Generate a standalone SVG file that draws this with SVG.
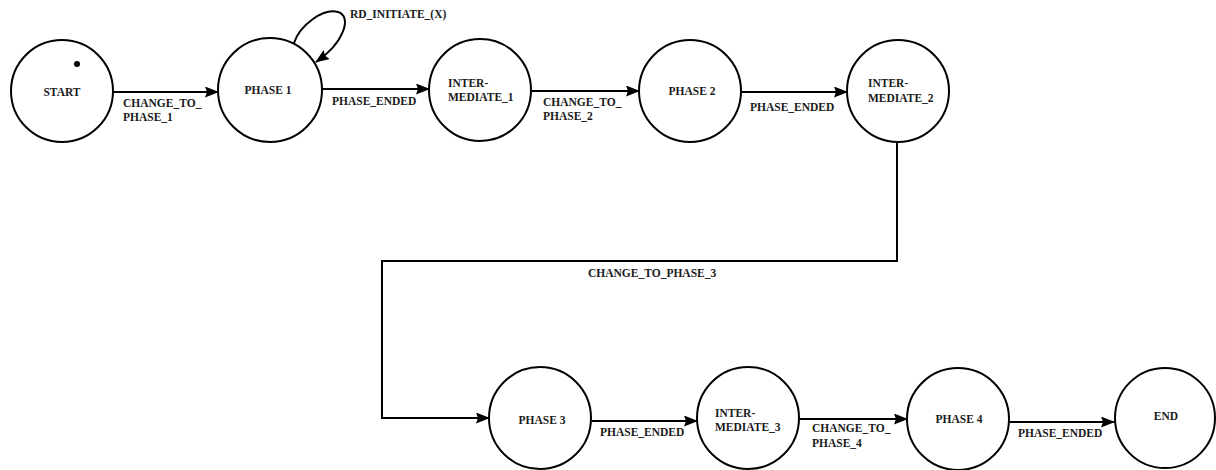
<svg xmlns="http://www.w3.org/2000/svg" width="1216" height="470" viewBox="0 0 1216 470">
<style>
.n{fill:#fff;stroke:#000;stroke-width:2}
.t{font-family:"Liberation Serif","Times New Roman",serif;font-weight:bold;font-size:11.5px;fill:#1a1a1a}
.c{text-anchor:middle}
.e{fill:none;stroke:#000;stroke-width:2}
</style>
<defs>
<marker id="a" markerWidth="14" markerHeight="11" refX="13" refY="5.5" orient="auto" markerUnits="userSpaceOnUse">
<path d="M0,0 L14,5.5 L0,11 L2,5.5 Z" fill="#000"/>
</marker>
</defs>
<rect width="1216" height="470" fill="#fff"/>
<g id="connectors">
<path class="e" d="M113,92 L218,92" marker-end="url(#a)"/>
<path class="e" d="M294,43 C300,25 323,8 338,12 C352,16 345,42 316,62" marker-end="url(#a)"/>
<path class="e" d="M322,89 L429,89" marker-end="url(#a)"/>
<path class="e" d="M532,91 L639,91" marker-end="url(#a)"/>
<path class="e" d="M742,92 L847,92" marker-end="url(#a)"/>
<path class="e" d="M897,143 L897,261 L382,261 L382,418 L489,418" marker-end="url(#a)"/>
<path class="e" d="M592,421 L697,421" marker-end="url(#a)"/>
<path class="e" d="M800,419 L907,419" marker-end="url(#a)"/>
<path class="e" d="M1010,422 L1114,422" marker-end="url(#a)"/>
<text class="t" x="123" y="107">CHANGE_TO_</text>
<text class="t" x="123" y="121">PHASE_1</text>
<text class="t" x="350" y="18">RD_INITIATE_(X)</text>
<text class="t" x="332" y="105">PHASE_ENDED</text>
<text class="t" x="543" y="106">CHANGE_TO_</text>
<text class="t" x="543" y="120">PHASE_2</text>
<text class="t" x="750" y="111">PHASE_ENDED</text>
<text class="t" x="588" y="277">CHANGE_TO_PHASE_3</text>
<text class="t" x="600" y="436">PHASE_ENDED</text>
<text class="t" x="812" y="432">CHANGE_TO_</text>
<text class="t" x="812" y="447">PHASE_4</text>
<text class="t" x="1018" y="437">PHASE_ENDED</text>
</g>
<g id="start">
<circle class="n" cx="62" cy="91" r="51"/>
<circle cx="77" cy="64" r="3" fill="#000"/>
<text class="t c" x="62" y="96">START</text>
</g>
<g id="phase1">
<circle class="n" cx="270" cy="90" r="52"/>
<text class="t c" x="268" y="94">PHASE 1</text>
</g>
<g id="intermediate1">
<circle class="n" cx="480" cy="90" r="51"/>
<text class="t" x="448" y="87">INTER-</text>
<text class="t" x="448" y="101">MEDIATE_1</text>
</g>
<g id="phase2">
<circle class="n" cx="690" cy="91" r="51"/>
<text class="t c" x="692" y="95">PHASE 2</text>
</g>
<g id="intermediate2">
<circle class="n" cx="898" cy="91" r="51"/>
<text class="t" x="868" y="87">INTER-</text>
<text class="t" x="868" y="102">MEDIATE_2</text>
</g>
<g id="phase3">
<circle class="n" cx="540" cy="418" r="51"/>
<text class="t c" x="542" y="424">PHASE 3</text>
</g>
<g id="intermediate3">
<circle class="n" cx="748" cy="418" r="51"/>
<text class="t" x="715" y="417">INTER-</text>
<text class="t" x="715" y="431">MEDIATE_3</text>
</g>
<g id="phase4">
<circle class="n" cx="958" cy="419" r="51"/>
<text class="t c" x="959" y="423">PHASE 4</text>
</g>
<g id="end">
<circle class="n" cx="1165" cy="418" r="50"/>
<text class="t c" x="1166" y="420">END</text>
</g>
</svg>
